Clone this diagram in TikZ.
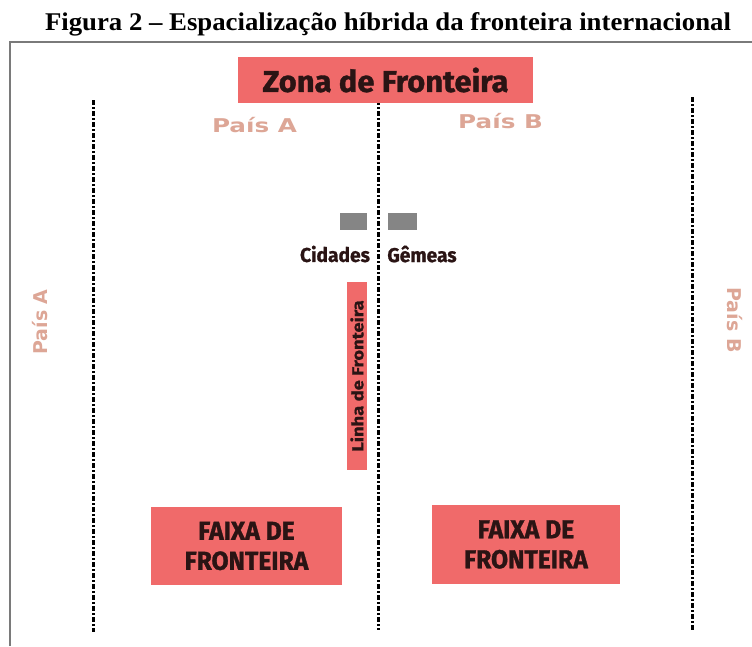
\documentclass[tikz,border=0pt]{standalone}
\usepackage{fontspec}
\setmainfont{Liberation Serif}
\newfontfamily\titlef[FakeStretch=1.05]{Liberation Serif}
\newfontfamily\zonaf[FakeStretch=1.03,FakeBold=1.2]{Fira Sans}
\newfontfamily\faixaf[FakeStretch=0.95,FakeBold=1.2]{Fira Sans}
\newfontfamily\cityf[FakeStretch=0.96,FakeBold=1]{Fira Sans}
\newfontfamily\linhaf[FakeStretch=1.15,FakeBold=1]{Fira Sans}
\newfontfamily\paisf[FakeStretch=1.3]{DejaVu Sans}
\newfontfamily\paisside{DejaVu Sans}
\definecolor{salmon}{HTML}{F06A6A}
\definecolor{paiscol}{HTML}{DDA696}
\definecolor{framegray}{HTML}{7A7A7A}
\definecolor{citygray}{HTML}{858585}
\definecolor{ink}{HTML}{2A1414}
\tikzset{
  border/.style={line width=3pt, dash pattern=on 4.5pt off 2.5pt on 1.5pt off 2.5pt},
  redbox/.style={fill=salmon, draw=none, inner sep=0pt, align=center, text=ink},
  pais/.style={text=paiscol, inner sep=0pt, font=\paisf\bfseries\fontsize{19}{21}\selectfont},
  paisv/.style={text=paiscol, inner sep=0pt, font=\paisside\bfseries\fontsize{19}{21}\selectfont},
  city/.style={fill=citygray, draw=none, inner sep=0pt},
  citytxt/.style={font=\cityf\bfseries\fontsize{20}{22}\selectfont, inner sep=0pt, text=ink}
}
\begin{document}
\begin{tikzpicture}[x=1pt,y=-1pt]
\useasboundingbox (0,0) rectangle (752,646);
% title
\node[font=\titlef\bfseries\fontsize{25.5}{28}\selectfont, inner sep=0pt, anchor=base] (title) at (388,30) {Figura 2 – Espacialização híbrida da fronteira internacional};
% frame
\draw[framegray, line width=2pt] (10,646) -- (10,42) -- (752,42);
% dashed borders
\coordinate (l1) at (93,100); \coordinate (l2) at (93,632);
\coordinate (m1) at (378,100); \coordinate (m2) at (378,630);
\coordinate (r1) at (692,97); \coordinate (r2) at (692,630);
\draw[border] (l1) -- (l2);
\draw[border] (m1) -- (m2);
\draw[border] (r1) -- (r2);
% zona de fronteira
\node[redbox, minimum width=295pt, minimum height=46pt, font=\zonaf\bfseries\fontsize{30}{32}\selectfont] (zona) at (385.5,80) {Zona de Fronteira};
% pais labels
\node[pais] (pa) at (254.5,125) {País A};
\node[pais] (pb) at (500.5,121) {País B};
\node[paisv, rotate=90] (pal) at (40,322) {País A};
\node[paisv, rotate=-90] (pbr) at (735,320) {País B};
% cities
\node[city, minimum width=27pt, minimum height=17pt] (c1) at (353.5,221.5) {};
\node[city, minimum width=29pt, minimum height=17pt] (c2) at (402.5,221.5) {};
\node[citytxt] (cid) at (335,254) {Cidades};
\node[citytxt] (gem) at (422,254) {Gêmeas};
% linha de fronteira
\node[redbox, rotate=90, minimum width=188pt, minimum height=20pt, font=\linhaf\bfseries\fontsize{16}{18}\selectfont] (linha) at (357,376) {Linha de Fronteira};
% faixas
\node[redbox, minimum width=191pt, minimum height=78pt, font=\faixaf\bfseries\fontsize{26}{30}\selectfont] (f1) at (246.5,546) {FAIXA DE\\FRONTEIRA};
\node[redbox, minimum width=188pt, minimum height=79pt, font=\faixaf\bfseries\fontsize{26}{30}\selectfont] (f2) at (526,544.5) {FAIXA DE\\FRONTEIRA};
\end{tikzpicture}
\end{document}
